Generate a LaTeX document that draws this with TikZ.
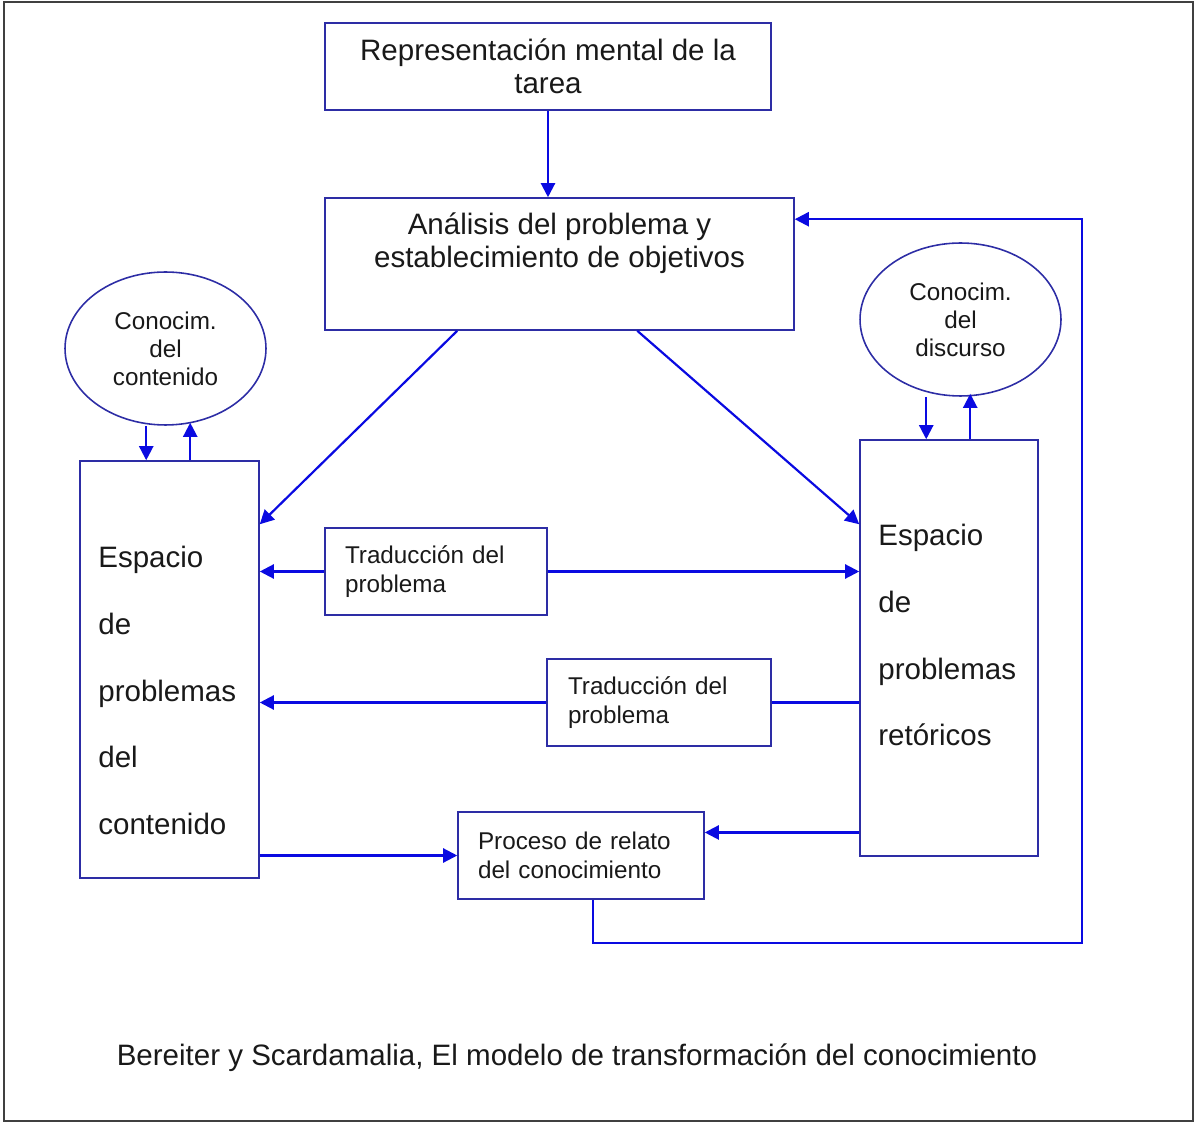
\documentclass[tikz,border=0pt]{standalone}
\usepackage{fontspec}
\setmainfont{Liberation Sans}
\usetikzlibrary{arrows.meta,shapes.geometric,calc}
\definecolor{boxblue}{RGB}{45,45,165}
\definecolor{lineblue}{RGB}{10,10,225}
\definecolor{txtgray}{RGB}{25,25,25}
\tikzset{
  box/.style={draw=boxblue,line width=0.9pt,rectangle,inner sep=0pt},
  conoc/.style={draw=boxblue,line width=0.9pt,ellipse,inner sep=0pt,
    minimum width=4.02cm,minimum height=3.06cm,align=center,
    font=\fontsize{13.8}{15.9}\selectfont,text=txtgray},
  smallbox/.style={box,minimum height=1.74cm,inner xsep=0.4cm,align=left,
    font=\fontsize{13.8}{16.5}\selectfont,text=txtgray},
  bigtxt/.style={font=\fontsize{16.8}{18.8}\selectfont,text=txtgray},
  spacetxt/.style={font=\fontsize{16.8}{38.1}\selectfont,text=txtgray,
    align=left,anchor=west,inner sep=0pt},
  link/.style={draw=lineblue,line width=1.25pt}
}
\begin{document}
\begin{tikzpicture}[x=0.02cm,y=-0.02cm,>={Triangle[length=8pt,width=8pt]}]
      \useasboundingbox (0,0) rectangle (1196,1124);
      \draw[line width=1.1pt,black!75] (4,2) rectangle (1193,1121);
      % boxes
      \node[box,minimum width=8.92cm,minimum height=1.74cm,align=center,bigtxt] (rep) at (548,66.5) {Representación mental de la\\tarea};
      \node[box,minimum width=9.38cm,minimum height=2.64cm] (ana) at (559.5,264) {};
      \node[bigtxt,align=center] (anatxt) at (559.5,243.5) {Análisis del problema y\\establecimiento de objetivos};
      \node[conoc] (ellL) at (165.5,348.5) {Conocim.\\del\\contenido};
      \node[conoc] (ellR) at (960.5,319.5) {Conocim.\\del\\discurso};
      \node[box,minimum width=3.58cm,minimum height=8.34cm] (espL) at (169.5,669.5) {};
      \node[spacetxt] (espLtxt) at (98,690.5) {Espacio\\de\\problemas\\del\\contenido};
      \node[box,minimum width=3.56cm,minimum height=8.32cm] (espR) at (949,648) {};
      \node[spacetxt] (espRtxt) at (878,635) {Espacio\\de\\problemas\\retóricos};
      \node[smallbox,text width=3.64cm] (tr1) at (436,571.5) {Traducción del\\problema};
      \node[smallbox,text width=3.64cm,inner xsep=0.42cm] (tr2) at (659,702.5) {Traducción del\\problema};
      \node[smallbox,text width=4.12cm] (pro) at (581,855.5) {Proceso de relato\\del conocimiento};
      \node[bigtxt] (cap) at (577,1058) {Bereiter y Scardamalia, El modelo de transformación del conocimiento};
      % connectors
      \draw[link,->] (rep.south) -- (rep.south |- ana.north);
      \draw[link,->] ($(ana.south west)+(133,0)$) -- ($(espL.north east)+(0,64)$);
      \draw[link,->] ($(ana.south west)+(313,0)$) -- ($(espR.north west)+(0,85)$);
      \draw[link,->] (tr1.west) -- (espL.east |- tr1.west);
      \draw[link,->] (tr1.east) -- (espR.west |- tr1.east);
      \draw[link] (espR.west |- tr2.east) -- (tr2.east);
      \draw[link,->] (tr2.west) -- (espL.east |- tr2.west);
      \draw[link,->] (espL.east |- pro.west) -- (pro.west);
      \coordinate (proin) at ($(pro.north east)!0.24!(pro.south east)$);
      \draw[link,->] (espR.west |- proin) -- (proin);
      \coordinate (back) at (1082,943);
      \draw[link,->] ($(pro.south)+(12,0)$) |- (back) |- ($(ana.north east)+(0,22)$);
      \coordinate (inL) at ($(espL.north west)+(67,0)$);
      \coordinate (outL) at ($(espL.north west)+(111,0)$);
      \coordinate (inR) at ($(espR.north west)+(67,0)$);
      \coordinate (outR) at ($(espR.north west)+(111,0)$);
      \draw[link,->] (inL |- ellL.south) -- (inL);
      \draw[link,->] (outL) -- ($(outL |- ellL.south)+(0,-3)$);
      \draw[link,->] (inR |- ellR.south) -- (inR);
      \draw[link,->] (outR) -- ($(outR |- ellR.south)+(0,-3)$);
\end{tikzpicture}
\end{document}
